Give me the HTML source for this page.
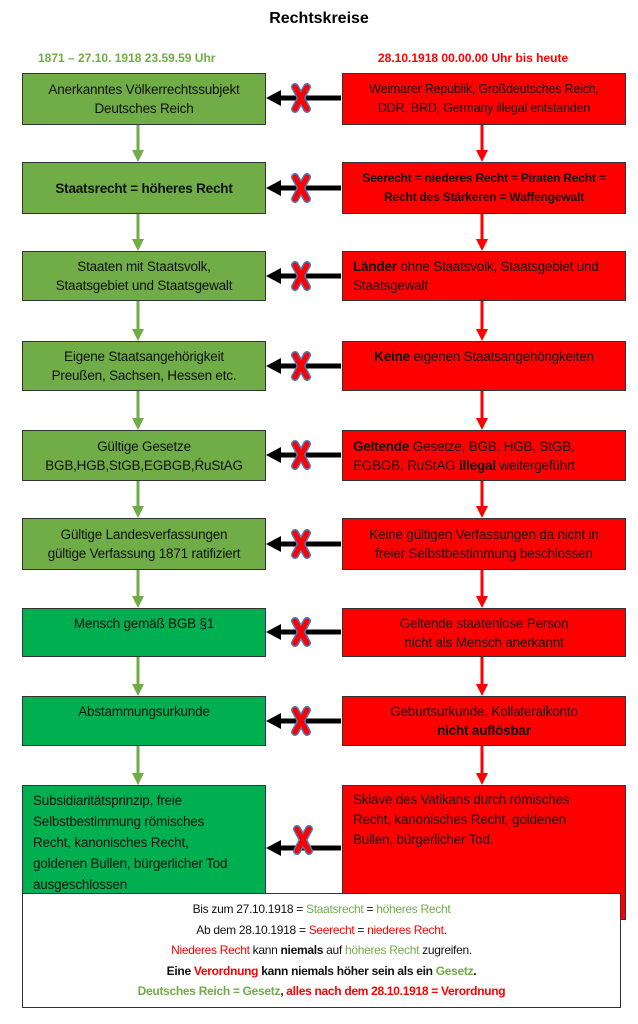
<!DOCTYPE html>
<html><head><meta charset="utf-8"><style>
body{margin:0;width:638px;height:1024px;background:#fff;position:relative;font-family:"Liberation Sans",sans-serif;overflow:hidden}
.b{position:absolute;box-sizing:border-box;border:1.5px solid #333;font-size:13.5px;line-height:19px;color:#111;display:flex;flex-direction:column;justify-content:center;text-align:center;letter-spacing:-0.2px}
.g{background:#70ad47;left:22px;width:244px}
.G{background:#00b050;left:22px;width:244px}
.r{background:#ff0000;left:342px;width:284px}
.l{text-align:left;padding-left:10px}
.t{position:absolute;font-weight:bold}
svg{position:absolute;left:0;top:0}
.gc{color:#70ad47}.rc{color:#ff0000}
</style></head><body>
<div class="t" style="left:0;width:638px;text-align:center;top:10px;font-size:16px">Rechtskreise</div>
<div class="t gc" style="left:38px;top:51px;font-size:12px">1871 – 27.10. 1918 23.59.59 Uhr</div>
<div class="t rc" style="left:378px;top:51px;font-size:12px">28.10.1918 00.00.00 Uhr bis heute</div>

<div class="b g" style="top:73px;height:52px">Anerkanntes Völkerrechtssubjekt<br>Deutsches Reich</div>
<div class="b r" style="top:73px;height:52px;font-size:12.5px">Weimarer Republik, Großdeutsches Reich,<br>DDR, BRD, Germany illegal entstanden</div>
<div class="b g" style="top:162px;height:52px"><b>Staatsrecht = höheres Recht</b></div>
<div class="b r" style="top:162px;height:52px;font-size:12px"><b>Seerecht = niederes Recht = Piraten Recht =<br>Recht des Stärkeren = Waffengewalt</b></div>
<div class="b g" style="top:251px;height:50px">Staaten mit Staatsvolk,<br>Staatsgebiet und Staatsgewalt</div>
<div class="b r l" style="top:251px;height:50px"><div><b>Länder</b> ohne Staatsvolk, Staatsgebiet und<br>Staatsgewalt</div></div>
<div class="b g" style="top:341px;height:50px">Eigene Staatsangehörigkeit<br>Preußen, Sachsen, Hessen etc.</div>
<div class="b r" style="top:341px;height:50px"><div><b>Keine</b> eigenen Staatsangehörigkeiten<br>&nbsp;</div></div>
<div class="b g" style="top:430px;height:51px">Gültige Gesetze<br>BGB,HGB,StGB,EGBGB,ŔuStAG</div>
<div class="b r l" style="top:430px;height:51px"><div><b>Geltende</b> Gesetze, BGB, HGB, StGB,<br>EGBGB, RuStAG <b>illegal</b> weitergeführt</div></div>
<div class="b g" style="top:518px;height:52px">Gültige Landesverfassungen<br>gültige Verfassung 1871 ratifiziert</div>
<div class="b r" style="top:518px;height:52px">Keine gültigen Verfassungen da nicht in<br>freier Selbstbestimmung beschlossen</div>
<div class="b G" style="top:608px;height:49px"><div>Mensch gemäß BGB §1<br>&nbsp;</div></div>
<div class="b r" style="top:608px;height:49px">Geltende staatenlose Person<br>nicht als Mensch anerkannt</div>
<div class="b G" style="top:696px;height:50px"><div>Abstammungsurkunde<br>&nbsp;</div></div>
<div class="b r" style="top:696px;height:50px">Geburtsurkunde, Kollateralkonto<br><b>nicht auflösbar</b></div>
<div class="b G l" style="top:785px;height:135px;justify-content:flex-start;padding-top:4px;line-height:21px">Subsidiaritätsprinzip, freie<br>Selbstbestimmung römisches<br>Recht, kanonisches Recht,<br>goldenen Bullen, bürgerlicher Tod<br>ausgeschlossen</div>
<div class="b r l" style="top:785px;height:135px;justify-content:flex-start;padding-top:4px;line-height:20px">Sklave des Vatikans durch römisches<br>Recht, kanonisches Recht, goldenen<br>Bullen, bürgerlicher Tod.</div>
<div class="b" style="left:22px;width:599px;top:893px;height:115px;background:#fff;font-size:12px;line-height:20.5px;letter-spacing:-0.3px">
<div>Bis zum 27.10.1918 = <span class="gc">Staatsrecht</span> = <span class="gc">höheres Recht</span></div>
<div>Ab dem 28.10.1918 = <span class="rc">Seerecht</span> = <span class="rc">niederes Recht</span>.</div>
<div><span class="rc">Niederes Recht</span> kann <b>niemals</b> auf <span class="gc">höheres Recht</span> zugreifen.</div>
<div><b>Eine <span class="rc">Verordnung</span> kann niemals höher sein als ein <span class="gc">Gesetz</span>.</b></div>
<div><b><span class="gc">Deutsches Reich = Gesetz</span>, <span class="rc">alles nach dem 28.10.1918 = Verordnung</span></b></div>
</div>

<svg width="638" height="1024">
<defs>
<g id="arr">
<line x1="341" y1="0" x2="278" y2="0" stroke="#000" stroke-width="5"/>
<polygon points="266,0 281,-8 281,8"/>
<g transform="translate(301,0)">
<path d="M-6,-11 L6,11 M6,-11 L-6,11" stroke="#4a7cc0" stroke-width="8" stroke-linecap="round"/>
<path d="M-6,-11 L6,11 M6,-11 L-6,11" stroke="#ff0000" stroke-width="5" stroke-linecap="round"/>
</g>
</g>
</defs>
<g stroke-width="3">
<g stroke="#70ad47" fill="#70ad47">
<line x1="138" y1="125" x2="138" y2="152"/><polygon points="132,150 144,150 138,162" stroke="none"/>
<line x1="138" y1="214" x2="138" y2="241"/><polygon points="132,239 144,239 138,251" stroke="none"/>
<line x1="138" y1="301" x2="138" y2="331"/><polygon points="132,329 144,329 138,341" stroke="none"/>
<line x1="138" y1="391" x2="138" y2="420"/><polygon points="132,418 144,418 138,430" stroke="none"/>
<line x1="138" y1="481" x2="138" y2="508"/><polygon points="132,506 144,506 138,518" stroke="none"/>
<line x1="138" y1="570" x2="138" y2="598"/><polygon points="132,596 144,596 138,608" stroke="none"/>
<line x1="138" y1="657" x2="138" y2="686"/><polygon points="132,684 144,684 138,696" stroke="none"/>
<line x1="138" y1="746" x2="138" y2="775"/><polygon points="132,773 144,773 138,785" stroke="none"/>
</g>
<g stroke="#ff0000" fill="#ff0000">
<line x1="482" y1="125" x2="482" y2="152"/><polygon points="476,150 488,150 482,162" stroke="none"/>
<line x1="482" y1="214" x2="482" y2="241"/><polygon points="476,239 488,239 482,251" stroke="none"/>
<line x1="482" y1="301" x2="482" y2="331"/><polygon points="476,329 488,329 482,341" stroke="none"/>
<line x1="482" y1="391" x2="482" y2="420"/><polygon points="476,418 488,418 482,430" stroke="none"/>
<line x1="482" y1="481" x2="482" y2="508"/><polygon points="476,506 488,506 482,518" stroke="none"/>
<line x1="482" y1="570" x2="482" y2="598"/><polygon points="476,596 488,596 482,608" stroke="none"/>
<line x1="482" y1="657" x2="482" y2="686"/><polygon points="476,684 488,684 482,696" stroke="none"/>
<line x1="482" y1="746" x2="482" y2="775"/><polygon points="476,773 488,773 482,785" stroke="none"/>
</g>
</g>
<use href="#arr" y="98"/>
<use href="#arr" y="188"/>
<use href="#arr" y="276"/>
<use href="#arr" y="366"/>
<use href="#arr" y="455"/>
<use href="#arr" y="544"/>
<use href="#arr" y="632"/>
<use href="#arr" y="721"/>
<g transform="translate(0,848)">
<line x1="341" y1="0" x2="278" y2="0" stroke="#000" stroke-width="5"/>
<polygon points="266,0 281,-8 281,8"/>
<g transform="translate(303,-8)">
<path d="M-6,-11 L6,11 M6,-11 L-6,11" stroke="#4a7cc0" stroke-width="8" stroke-linecap="round"/>
<path d="M-6,-11 L6,11 M6,-11 L-6,11" stroke="#ff0000" stroke-width="5" stroke-linecap="round"/>
</g>
</g>
</svg>
</body></html>
